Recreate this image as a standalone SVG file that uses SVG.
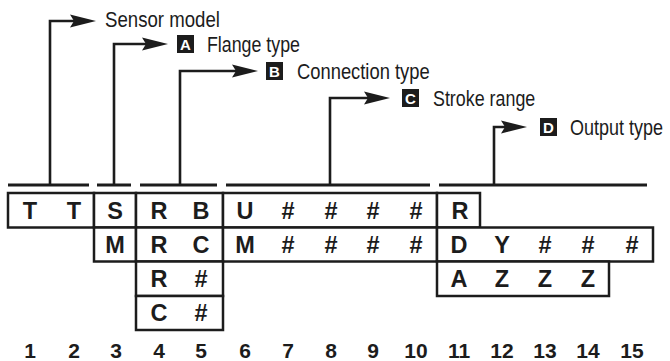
<svg xmlns="http://www.w3.org/2000/svg" width="670" height="361" viewBox="0 0 670 361">
<style>
.ln{stroke:#1c1c1c;stroke-width:3;fill:none}
.cn{stroke:#1c1c1c;stroke-width:2.6;fill:none}
.ah{fill:#1c1c1c;stroke:none}
.cell{fill:#fff;stroke:#1c1c1c;stroke-width:2.5}
.lbl{font-family:"Liberation Sans",Arial,sans-serif;font-size:21.5px;fill:#1c1c1c}
.key{fill:#1c1c1c}
.kt{font-family:"Liberation Sans",Arial,sans-serif;font-weight:bold;font-size:15px;fill:#fff;text-anchor:middle}
.ch{font-family:"Liberation Sans",Arial,sans-serif;font-weight:bold;font-size:23.5px;fill:#1c1c1c;text-anchor:middle}
.num{font-family:"Liberation Sans",Arial,sans-serif;font-weight:bold;font-size:21px;fill:#1c1c1c;text-anchor:middle}
</style>
<g id="connectors">
<line class="ln" x1="8" y1="185" x2="89" y2="185"/>
<line class="ln" x1="97" y1="185" x2="131" y2="185"/>
<line class="ln" x1="140" y1="185" x2="217" y2="185"/>
<line class="ln" x1="226" y1="185" x2="430" y2="185"/>
<line class="ln" x1="439" y1="185" x2="647" y2="185"/>
<polyline class="cn" points="50,185 50,21 75,21"/>
<path class="ah" d="M96,21 L70,14.5 L74,21 L70,27.5 z"/>
<polyline class="cn" points="114,185 114,44 147,44"/>
<path class="ah" d="M168,44 L142,37.5 L146,44 L142,50.5 z"/>
<polyline class="cn" points="180,185 180,71 237,71"/>
<path class="ah" d="M258,71 L232,64.5 L236,71 L232,77.5 z"/>
<polyline class="cn" points="330,185 330,98 369,98"/>
<path class="ah" d="M390,98 L364,91.5 L368,98 L364,104.5 z"/>
<polyline class="cn" points="494,185 494,127 506,127"/>
<path class="ah" d="M527,127 L501,120.5 L505,127 L501,133.5 z"/>
</g>
<g id="label-sensor">
<text class="lbl" transform="translate(105,27) scale(0.845,1)" textLength="136" lengthAdjust="spacingAndGlyphs">Sensor model</text>
</g>
<g id="label-a">
<rect class="key" x="177" y="35" width="17" height="18"/>
<text class="kt" x="185.5" y="49.5">A</text>
<text class="lbl" transform="translate(207,52) scale(0.845,1)" textLength="110" lengthAdjust="spacingAndGlyphs">Flange type</text>
</g>
<g id="label-b">
<rect class="key" x="266" y="62" width="17" height="18"/>
<text class="kt" x="274.5" y="76.5">B</text>
<text class="lbl" transform="translate(297,79) scale(0.845,1)" textLength="157" lengthAdjust="spacingAndGlyphs">Connection type</text>
</g>
<g id="label-c">
<rect class="key" x="402" y="89" width="17" height="18"/>
<text class="kt" x="410.5" y="103.5">C</text>
<text class="lbl" transform="translate(433,106) scale(0.845,1)" textLength="121" lengthAdjust="spacingAndGlyphs">Stroke range</text>
</g>
<g id="label-d">
<rect class="key" x="540" y="118" width="17" height="18"/>
<text class="kt" x="548.5" y="132.5">D</text>
<text class="lbl" transform="translate(570,135) scale(0.845,1)" textLength="110" lengthAdjust="spacingAndGlyphs">Output type</text>
</g>
<g id="row1">
<rect class="cell" x="8" y="193" width="86" height="34.5"/>
<rect class="cell" x="94" y="193" width="42" height="34.5"/>
<rect class="cell" x="136" y="193" width="87" height="34.5"/>
<rect class="cell" x="223" y="193" width="214" height="34.5"/>
<rect class="cell" x="437" y="193" width="43" height="34.5"/>
<text class="ch" x="30" y="219">T</text>
<text class="ch" x="74" y="219">T</text>
<text class="ch" x="115" y="219">S</text>
<text class="ch" x="159" y="219">R</text>
<text class="ch" x="201" y="219">B</text>
<text class="ch" x="245" y="219">U</text>
<text class="ch" x="288" y="219">#</text>
<text class="ch" x="331" y="219">#</text>
<text class="ch" x="373" y="219">#</text>
<text class="ch" x="416" y="219">#</text>
<text class="ch" x="460" y="219">R</text>
</g>
<g id="row2">
<rect class="cell" x="94" y="227.5" width="42" height="34"/>
<rect class="cell" x="136" y="227.5" width="87" height="34"/>
<rect class="cell" x="223" y="227.5" width="214" height="34"/>
<rect class="cell" x="437" y="227.5" width="216" height="34"/>
<text class="ch" x="115" y="253">M</text>
<text class="ch" x="159" y="253">R</text>
<text class="ch" x="201" y="253">C</text>
<text class="ch" x="245" y="253">M</text>
<text class="ch" x="288" y="253">#</text>
<text class="ch" x="331" y="253">#</text>
<text class="ch" x="373" y="253">#</text>
<text class="ch" x="416" y="253">#</text>
<text class="ch" x="459" y="253">D</text>
<text class="ch" x="502" y="253">Y</text>
<text class="ch" x="545" y="253">#</text>
<text class="ch" x="588" y="253">#</text>
<text class="ch" x="632" y="253">#</text>
</g>
<g id="row3">
<rect class="cell" x="136" y="261.5" width="87" height="34.5"/>
<rect class="cell" x="437" y="261.5" width="172" height="34.5"/>
<text class="ch" x="159" y="287">R</text>
<text class="ch" x="201" y="287">#</text>
<text class="ch" x="459" y="287">A</text>
<text class="ch" x="502" y="287">Z</text>
<text class="ch" x="545" y="287">Z</text>
<text class="ch" x="588" y="287">Z</text>
</g>
<g id="row4">
<rect class="cell" x="136" y="296" width="87" height="34"/>
<text class="ch" x="159" y="321">C</text>
<text class="ch" x="201" y="321">#</text>
</g>
<g id="positions">
<text class="num" x="30" y="358">1</text>
<text class="num" x="74" y="358">2</text>
<text class="num" x="116" y="358">3</text>
<text class="num" x="159" y="358">4</text>
<text class="num" x="201" y="358">5</text>
<text class="num" x="245" y="358">6</text>
<text class="num" x="288" y="358">7</text>
<text class="num" x="331" y="358">8</text>
<text class="num" x="373" y="358">9</text>
<text class="num" x="416" y="358">10</text>
<text class="num" x="459" y="358">11</text>
<text class="num" x="502" y="358">12</text>
<text class="num" x="545" y="358">13</text>
<text class="num" x="588" y="358">14</text>
<text class="num" x="632" y="358">15</text>
</g>
</svg>
